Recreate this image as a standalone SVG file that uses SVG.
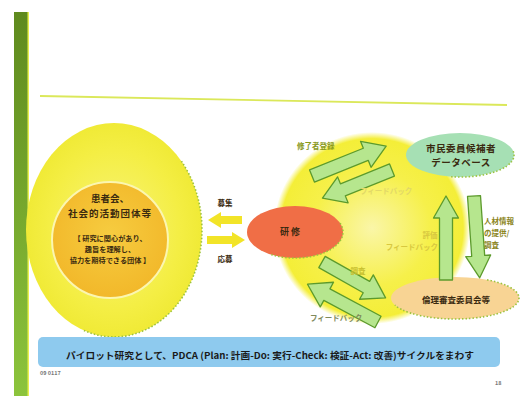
<svg xmlns="http://www.w3.org/2000/svg" width="521" height="396" viewBox="0 0 521 396">
<defs>
<style>
text{font-family:"Noto Sans CJK JP","Noto Sans",sans-serif;font-weight:bold;dominant-baseline:central}
.dark{fill:#3a2a10}
.garrow{fill:#b6e68e;stroke:#5c9a2c;stroke-width:1.3;stroke-linejoin:round}
.yarrow{fill:#f2e428}
.dots{fill:none;stroke:#9cc23e;stroke-width:1.6;stroke-dasharray:1.5 2}
.lbl{font-size:7.5px}
</style>
<linearGradient id="bar" x1="0" y1="0" x2="0" y2="1">
<stop offset="0" stop-color="#5f8a1e"/>
<stop offset="1" stop-color="#8cc43c"/>
</linearGradient>
<radialGradient id="leftY" cx="0.5" cy="0.5" r="0.5">
<stop offset="0" stop-color="#f8f47a"/>
<stop offset="0.75" stop-color="#f4ee44"/>
<stop offset="1" stop-color="#f0ea36"/>
</radialGradient>
<radialGradient id="glow" cx="0.5" cy="0.5" r="0.5">
<stop offset="0" stop-color="#faf6a8"/>
<stop offset="0.6" stop-color="#f6f04a"/>
<stop offset="0.93" stop-color="#f4ee38"/>
<stop offset="1" stop-color="#f4ee38" stop-opacity="0"/>
</radialGradient>
<radialGradient id="inner" cx="0.5" cy="0.45" r="0.55">
<stop offset="0" stop-color="#f6cc40"/>
<stop offset="1" stop-color="#f2b82a"/>
</radialGradient>
</defs>
<rect width="521" height="396" fill="#ffffff"/>
<rect x="14" y="12" width="14" height="384" fill="url(#bar)"/>
<rect x="27.5" y="12" width="1.5" height="384" fill="#e8f050"/>
<line x1="40" y1="96" x2="507" y2="105" stroke="#dbe85a" stroke-width="1.8"/>

<g id="glow-area">
<ellipse cx="372" cy="228" rx="98" ry="96" fill="url(#glow)"/>
</g>

<g id="groups">
<ellipse cx="114" cy="230" rx="88" ry="107" fill="url(#leftY)"/>
<path class="dots" d="M181.4,161.2 A88,107 0 0 1 83.9,330.5"/>
<circle cx="110" cy="240" r="58" fill="url(#inner)" stroke="#fbf6b0" stroke-width="2"/>
<text x="110" y="198" text-anchor="middle" font-size="9.5" class="dark">患者会、</text>
<text x="110" y="213" text-anchor="middle" font-size="9.5" letter-spacing="1" class="dark">社会的活動団体等</text>
<text x="110" y="238" text-anchor="middle" font-size="7.2" class="dark">【 研究に関心があり、</text>
<text x="110" y="249" text-anchor="middle" font-size="7.2" class="dark">趣旨を理解し、</text>
<text x="110" y="260" text-anchor="middle" font-size="7.2" class="dark">協力を期待できる団体 】</text>
</g>

<g id="training">
<ellipse cx="295" cy="232" rx="48" ry="26" fill="#f06e46"/>
<path class="dots" d="M340.1,223.1 A48,26 0 0 1 271,254.5"/>
<text x="291" y="231" text-anchor="middle" font-size="9" letter-spacing="2" class="dark">研修</text>
</g>

<g id="database">
<ellipse cx="460" cy="155" rx="54" ry="22" fill="#a6e0b4"/>
<path class="dots" d="M513.2,151.2 A54,22 0 0 1 450.6,176.7"/>
<text x="461" y="148" text-anchor="middle" font-size="9.5" letter-spacing="0.5" class="dark">市民委員候補者</text>
<text x="461" y="162" text-anchor="middle" font-size="9.5" letter-spacing="0.5" class="dark">データベース</text>
</g>

<g id="ethics">
<ellipse cx="455" cy="298" rx="64" ry="21" fill="#f8d494"/>
<path class="dots" d="M487,279.8 A64,21 0 1 1 394.9,305.2"/>
<text x="456" y="299" text-anchor="middle" font-size="8.5" class="dark">倫理審査委員会等</text>
</g>

<g id="connectors">
<path class="yarrow" d="M242,216 L221,216 L221,212 L208,220 L221,228 L221,224 L242,224 Z"/>
<path class="yarrow" d="M207,236 L232,236 L232,232 L245,240 L232,248 L232,244 L207,244 Z"/>
<text x="225" y="202" text-anchor="middle" class="lbl dark">募集</text>
<text x="225" y="258" text-anchor="middle" class="lbl dark">応募</text>

<path class="garrow" transform="translate(312,176) rotate(-22)" d="M0,-6.5 L58,-6.5 L58,-14 L80,0 L58,14 L58,6.5 L0,6.5 Z"/>
<path class="garrow" transform="translate(392,170) rotate(158)" d="M0,-6.5 L53,-6.5 L53,-14 L75,0 L53,14 L53,6.5 L0,6.5 Z"/>
<path class="garrow" transform="translate(446,280) rotate(-90)" d="M0,-6.5 L62,-6.5 L62,-12.5 L84,0 L62,12.5 L62,6.5 L0,6.5 Z"/>
<path class="garrow" transform="translate(474,196) rotate(86)" d="M0,-6.5 L60,-6.5 L60,-12.5 L82,0 L60,12.5 L60,6.5 L0,6.5 Z"/>
<path class="garrow" transform="translate(322,262) rotate(29.4)" d="M0,-6.5 L51,-6.5 L51,-14 L73,0 L51,14 L51,6.5 L0,6.5 Z"/>
<path class="garrow" transform="translate(378,322) rotate(-151.8)" d="M0,-6.5 L58,-6.5 L58,-14 L80,0 L58,14 L58,6.5 L0,6.5 Z"/>

<text x="297" y="145" class="lbl" fill="#8a9a1c">修了者登録</text>
<text x="360" y="190" class="lbl" fill="#e2d868" font-weight="normal">フィードバック</text>
<text x="430" y="234" text-anchor="middle" class="lbl" fill="#d8c840">評価</text>
<text x="438" y="246" text-anchor="end" class="lbl" fill="#d8c840" font-weight="normal">フィードバック</text>
<text x="484" y="220" class="lbl" fill="#8a8420">人材情報</text>
<text x="484" y="232" class="lbl" fill="#8a8420">の提供/</text>
<text x="484" y="244" class="lbl" fill="#8a8420">調査</text>
<text x="358" y="270" text-anchor="middle" class="lbl" fill="#c8c030">調査</text>
<text x="310" y="317" class="lbl" fill="#7f8a5a" font-weight="normal">フィードバック</text>
</g>

<g id="banner">
<rect x="38" y="337" width="462" height="30" rx="5" fill="#8ecaee"/>
<text x="270" y="355" text-anchor="middle" font-size="9.2" textLength="408" lengthAdjust="spacingAndGlyphs" fill="#1a1a1a">パイロット研究として、PDCA (Plan: 計画-Do: 実行-Check: 検証-Act: 改善)サイクルをまわす</text>
</g>
<text x="40" y="373" font-size="5.5" font-weight="normal" fill="#777777">09 0117</text>
<text x="495" y="383" font-size="5.5" font-weight="normal" fill="#777777">18</text>
</svg>
